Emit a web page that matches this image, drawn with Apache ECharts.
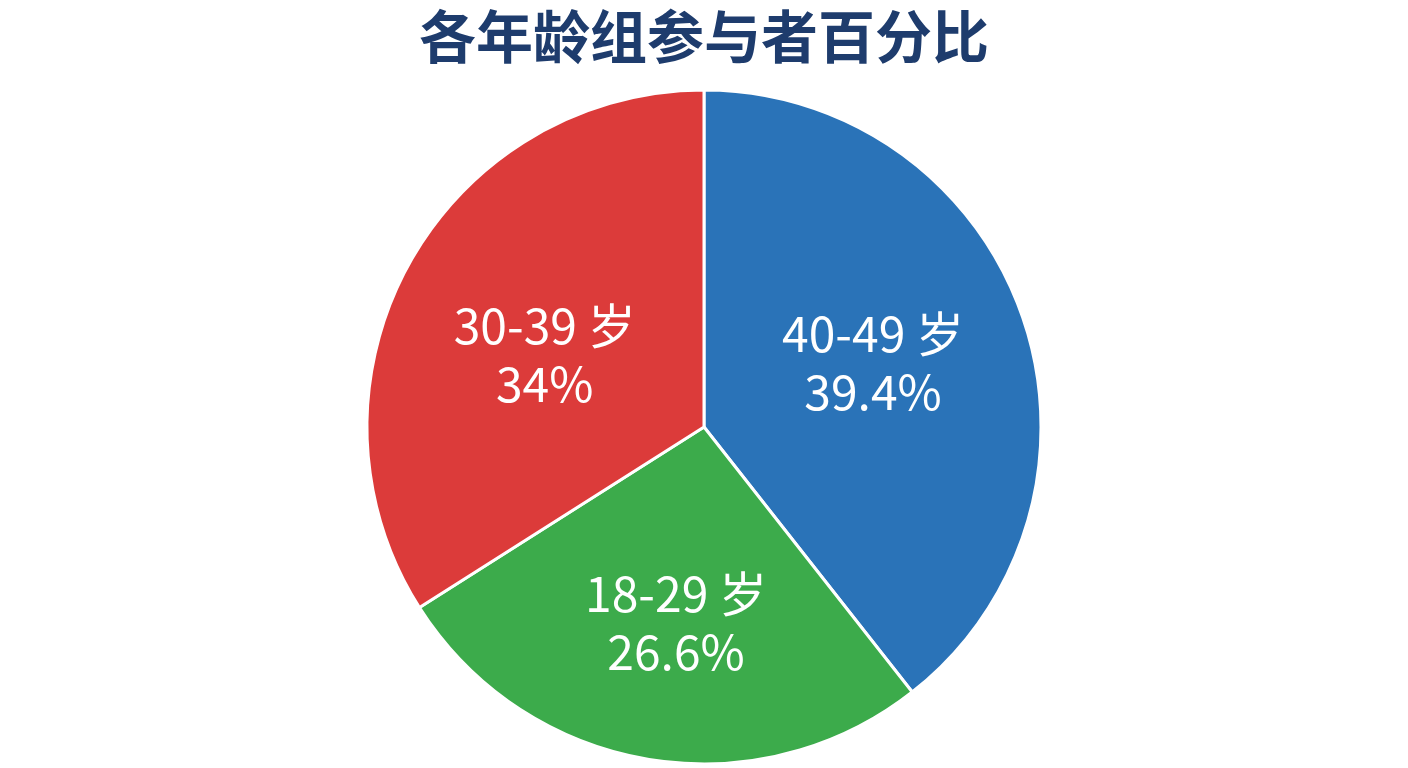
<!DOCTYPE html>
<html><head><meta charset="utf-8">
<script src="https://cdn.jsdelivr.net/npm/echarts@6/dist/echarts.min.js"></script>
<style>html,body{margin:0;padding:0;background:#fff}#c{width:1408px;height:768px}</style>
</head><body><div id="c"></div>
<script>
const categories = ['40-49 岁', '18-29 岁', '30-39 岁'];
const values = [39.4, 26.6, 34];
const labels = ['39.4%', '26.6%', '34%'];
const colors = ['#2a73b8', '#3cab4b', '#dc3b3a'];

const labelOffsets = [[7, -8], [1, 27], [-9, 10]];

const chart = echarts.init(document.getElementById('c'));
chart.setOption({
  animation: false,
  title: {
    text: '各年龄组参与者百分比',
    left: 'center', top: 3,
    textStyle: { fontFamily: 'Noto Sans CJK SC', fontWeight: 'bold', fontSize: 57, color: '#1e3c6d' }
  },
  series: [{
    type: 'pie',
    center: [704, 427],
    radius: [0, 337],
    startAngle: 90,
    clockwise: true,
    data: categories.map((c, i) => ({
      name: c, value: values[i],
      itemStyle: { color: colors[i] },
      label: { offset: labelOffsets[i] }
    })),
    itemStyle: { borderColor: '#ffffff', borderWidth: 3 },
    label: {
      position: 'inside',
      formatter: p => p.name + '\n' + labels[p.dataIndex],
      color: '#ffffff',
      fontFamily: 'Noto Sans CJK SC',
      fontSize: 48,
      lineHeight: 58
    },
    labelLine: { show: false },
    emphasis: { disabled: true }
  }]
});
</script></body></html>
